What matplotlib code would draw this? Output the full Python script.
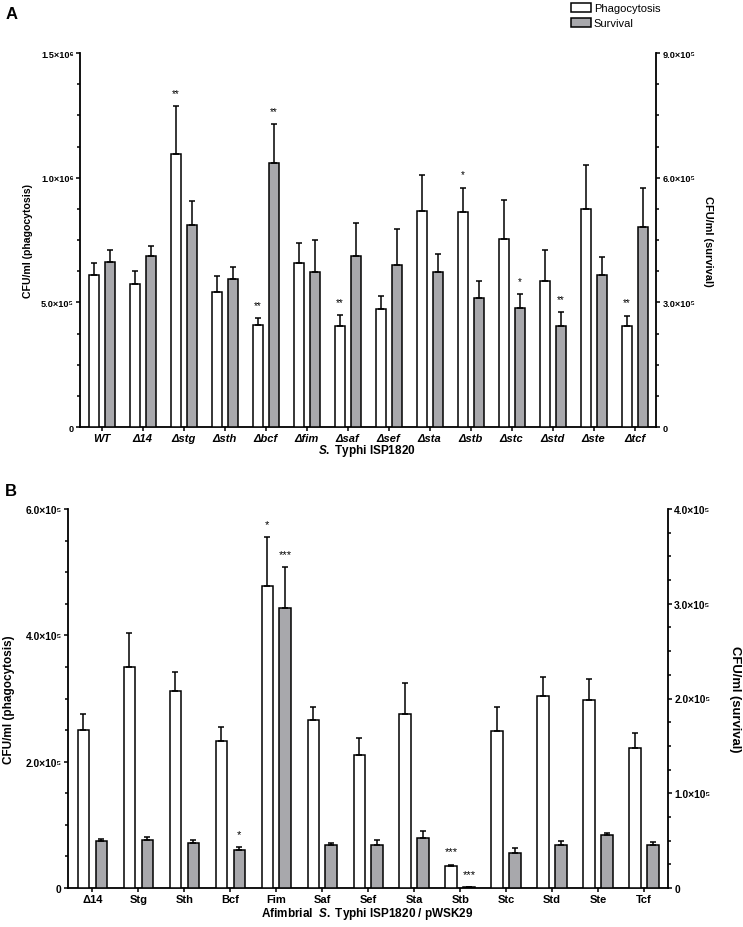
import numpy as np
import matplotlib
matplotlib.use("Agg")
import matplotlib.pyplot as plt
from matplotlib.patches import Patch
from matplotlib.ticker import MultipleLocator

plt.rcParams['font.family'] = ['Liberation Sans', 'DejaVu Sans']
plt.rcParams['mathtext.fontset'] = 'custom'
plt.rcParams['mathtext.rm'] = 'Liberation Sans:bold'
plt.rcParams['mathtext.it'] = 'Liberation Sans:italic:bold'

# panel A: deletion mutants
a_strains = ['WT', 'Δ14', 'Δstg', 'Δsth', 'Δbcf', 'Δfim', 'Δsaf', 'Δsef',
             'Δsta', 'Δstb', 'Δstc', 'Δstd', 'Δste', 'Δtcf']
a_phago = [6.11e5, 5.75e5, 1.095e6, 5.43e5, 4.08e5, 6.56e5, 4.06e5, 4.72e5,
           8.65e5, 8.62e5, 7.55e5, 5.87e5, 8.76e5, 4.04e5]
a_phago_err = [0.47e5, 0.49e5, 1.93e5, 0.61e5, 0.29e5, 0.82e5, 0.42e5, 0.53e5,
               1.44e5, 0.98e5, 1.57e5, 1.22e5, 1.76e5, 0.43e5]
a_surv = [3.98e5, 4.11e5, 4.85e5, 3.57e5, 6.36e5, 3.74e5, 4.11e5, 3.90e5,
          3.72e5, 3.11e5, 2.87e5, 2.43e5, 3.65e5, 4.82e5]
a_surv_err = [0.29e5, 0.24e5, 0.58e5, 0.27e5, 0.93e5, 0.75e5, 0.79e5, 0.86e5,
              0.44e5, 0.40e5, 0.33e5, 0.34e5, 0.44e5, 0.93e5]
a_phago_sig = ['', '', '**', '', '**', '', '**', '', '', '*', '', '', '', '**']
a_surv_sig = ['', '', '', '', '**', '', '', '', '', '', '*', '**', '', '']

# panel B: afimbrial strain + single fimbrial operon
b_strains = ['Δ14', 'Stg', 'Sth', 'Bcf', 'Fim', 'Saf', 'Sef', 'Sta', 'Stb',
             'Stc', 'Std', 'Ste', 'Tcf']
b_phago = [2.50e5, 3.50e5, 3.12e5, 2.32e5, 4.78e5, 2.66e5, 2.105e5, 2.76e5,
           3.42e4, 2.49e5, 3.04e5, 2.98e5, 2.21e5]
b_phago_err = [0.26e5, 0.53e5, 0.30e5, 0.23e5, 0.78e5, 0.20e5, 0.265e5, 0.48e5,
               0.26e4, 0.38e5, 0.30e5, 0.33e5, 0.25e5]
b_surv = [4.91e4, 5.09e4, 4.74e4, 4.0e4, 2.958e5, 4.56e4, 4.56e4, 5.26e4,
          1.0e3, 3.72e4, 4.56e4, 5.58e4, 4.53e4]
b_surv_err = [0.25e4, 0.28e4, 0.31e4, 0.32e4, 0.43e5, 0.18e4, 0.46e4, 0.78e4,
              0.0, 0.49e4, 0.35e4, 0.24e4, 0.28e4]
b_phago_sig = ['', '', '', '', '*', '', '', '', '***', '', '', '', '']
b_surv_sig = ['', '', '', '*', '***', '', '', '', '***', '', '', '', '']

a_left_ticks = [0, 5e5, 1e6, 1.5e6]
a_left_labels = ['0', '5.0×10⁵', '1.0×10⁶', '1.5×10⁶']
a_right_ticks = [0, 3e5, 6e5, 9e5]
a_right_labels = ['0', '3.0×10⁵', '6.0×10⁵', '9.0×10⁵']
b_left_ticks = [0, 2e5, 4e5, 6e5]
b_left_labels = ['0', '2.0×10⁵', '4.0×10⁵', '6.0×10⁵']
b_right_ticks = [0, 1e5, 2e5, 3e5, 4e5]
b_right_labels = ['0', '1.0×10⁵', '2.0×10⁵', '3.0×10⁵', '4.0×10⁵']

GRAY = '#a8a8ac'
LW = 1.1


def stars(ax, xs, tops, sig, dy, fs):
    for x, t, s in zip(xs, tops, sig):
        if s:
            ax.annotate(s, (x, t), xytext=(0, dy), textcoords='offset points',
                        ha='center', va='center', fontsize=fs)


def panel(rect, strains, phago, perr, surv, serr, psig, ssig,
          lt, ll, lmin, rt, rl, rmin, xlab, italic, lab_x, rlab_x,
          lfs, rfs, tfs, sfs):
    ax = fig.add_axes(rect)
    ax2 = ax.twinx()
    n = len(strains)
    x = np.arange(n)
    off, w = 0.195, 0.25
    ax.bar(x - off, phago, w, color='white', edgecolor='black', linewidth=LW,
           yerr=[np.zeros(n), perr], capsize=2.5,
           error_kw=dict(elinewidth=LW, capthick=LW), zorder=3)
    ax2.bar(x + off, surv, w, color=GRAY, edgecolor='black', linewidth=LW,
            yerr=[np.zeros(n), serr], capsize=2.5,
            error_kw=dict(elinewidth=LW, capthick=LW), zorder=3)
    stars(ax, x - off, np.array(phago) + np.array(perr), psig, 9.5, sfs)
    stars(ax2, x + off, np.array(surv) + np.array(serr), ssig, 9.5, sfs)

    ax.set_xlim(-0.53, n - 0.48)
    ax.set_ylim(0, lt[-1])
    ax2.set_ylim(0, rt[-1])
    ax.set_xticks(x)
    ax.set_xticklabels(strains, fontweight='bold', fontsize=8,
                       fontstyle='italic' if italic else 'normal')
    ax.set_yticks(lt)
    ax.set_yticklabels(ll, fontweight='bold', fontsize=tfs)
    ax.yaxis.set_minor_locator(MultipleLocator(lmin))
    ax2.set_yticks(rt)
    ax2.set_yticklabels(rl, fontweight='bold', fontsize=tfs)
    ax2.yaxis.set_minor_locator(MultipleLocator(rmin))

    for a in (ax, ax2):
        a.spines['top'].set_visible(False)
        for sp in a.spines.values():
            sp.set_linewidth(1.3)
        a.tick_params(axis='both', which='major', length=3, width=1.1, pad=1.5)
        a.tick_params(axis='y', which='minor', length=2.5, width=1.1)
    ax.spines['right'].set_visible(False)
    ax2.spines['left'].set_visible(False)
    ax2.spines['bottom'].set_visible(False)

    ax.set_ylabel('CFU/ml (phagocytosis)', fontweight='bold', fontsize=lfs)
    ax.yaxis.set_label_coords(lab_x, 0.5)
    ax2.set_ylabel('CFU/ml (survival)', fontweight='bold', fontsize=rfs,
                   rotation=-90, va='center')
    ax2.yaxis.set_label_coords(rlab_x, 0.5)
    ax.text(0.498, xlab[1], xlab[0], transform=ax.transAxes, ha='center',
            va='top', fontweight='bold', fontsize=8.5)
    return ax


fig = plt.figure(figsize=(7.43, 9.28), dpi=100)

panel([80 / 743, 1 - 428 / 928, 576 / 743, 374 / 928],
      a_strains, a_phago, a_phago_err, a_surv, a_surv_err,
      a_phago_sig, a_surv_sig,
      a_left_ticks, a_left_labels, 1.25e5,
      a_right_ticks, a_right_labels, 0.75e5,
      (r'$\mathit{S.}$ Typhi ISP1820', -0.04), True, -0.082, 1.09,
      7.6, 7.9, 6.6, 7)

panel([68 / 743, 1 - 889 / 928, 600 / 743, 379 / 928],
      b_strains, b_phago, b_phago_err, b_surv, b_surv_err,
      b_phago_sig, b_surv_sig,
      b_left_ticks, b_left_labels, 0.5e5,
      b_right_ticks, b_right_labels, 0.25e5,
      (r'Afimbrial  $\mathit{S.}$ Typhi ISP1820 / pWSK29', -0.045), False,
      -0.088, 1.112, 8.5, 9.4, 7.4, 8)

fig.text(0.007, 0.992, 'A', fontweight='bold', fontsize=12, va='top')
fig.text(0.007, 0.478, 'B', fontweight='bold', fontsize=12, va='top')

handles = [Patch(facecolor='white', edgecolor='black', linewidth=1.1),
           Patch(facecolor=GRAY, edgecolor='black', linewidth=1.1)]
fig.legend(handles, ['Phagocytosis', 'Survival'], loc='upper left',
           bbox_to_anchor=(0.758, 1.004), frameon=False, fontsize=8,
           handlelength=1.8, handleheight=0.8, handletextpad=0.25,
           labelspacing=0.45, borderpad=0.2)

fig.savefig('out.png', dpi=100)
